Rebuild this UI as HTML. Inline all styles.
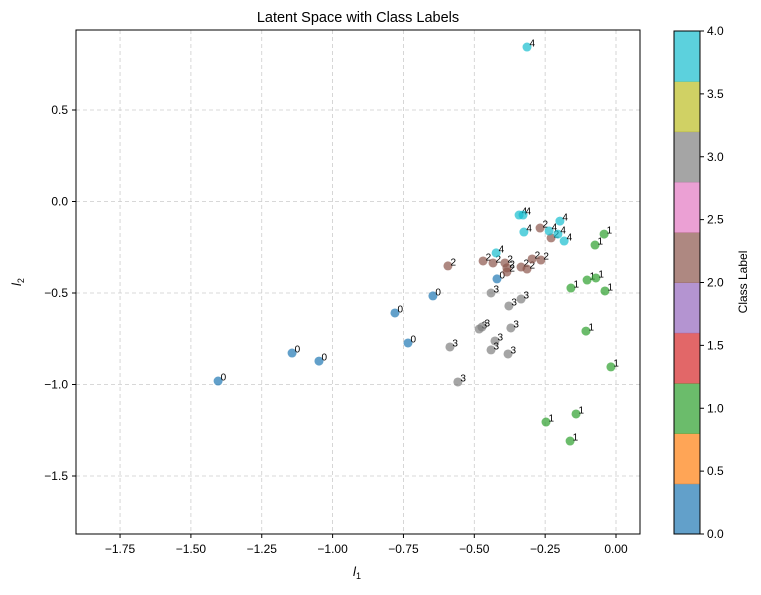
<!DOCTYPE html>
<html><head><meta charset="utf-8"><style>
body{margin:0;background:#fff;font-family:"Liberation Sans","DejaVu Sans",sans-serif}
</style></head><body>
<svg id="chart" width="761" height="590" xmlns="http://www.w3.org/2000/svg" font-family="Liberation Sans, DejaVu Sans, sans-serif">
<text x="358" y="22" text-anchor="middle" font-size="14.5">Latent Space with Class Labels</text>
<g id="grid"></g>
<g id="ticks"></g>
<g id="points"></g>
<rect x="76" y="30" width="564" height="504" fill="none" stroke="#000" stroke-width="1"/>
<text x="357" y="576" text-anchor="middle" font-size="13" font-style="italic">l<tspan font-size="9" dy="3" font-style="normal">1</tspan></text>
<text transform="translate(21,282) rotate(-90)" text-anchor="middle" font-size="13" font-style="italic">l<tspan font-size="9" dy="3" font-style="normal">2</tspan></text>
<g id="cbar"></g>
<text transform="translate(747,282) rotate(-90)" text-anchor="middle" font-size="12">Class Label</text>
</svg>
<script>
const classes=[0,0,0,0,0,0,0, 1,1,1,1,1,1,1,1,1,1,1, 2,2,2,2,2,2,2,2,2,2,2,2, 3,3,3,3,3,3,3,3,3,3,3, 4,4,4,4,4,4,4,4,4];
const xs=[-1.404,-1.143,-1.048,-0.780,-0.734,-0.646,-0.420,
-0.159,-0.102,-0.071,-0.039,-0.042,-0.074,-0.106,-0.018,-0.247,-0.141,-0.162,
-0.268,-0.229,-0.593,-0.469,-0.434,-0.392,-0.385,-0.385,-0.335,-0.314,-0.296,-0.265,
-0.441,-0.378,-0.335,-0.483,-0.473,-0.371,-0.427,-0.441,-0.381,-0.586,-0.558,
-0.314,-0.342,-0.328,-0.325,-0.198,-0.236,-0.205,-0.183,-0.423];
const ys=[-0.981,-0.828,-0.872,-0.609,-0.773,-0.516,-0.423,
-0.473,-0.429,-0.418,-0.489,-0.178,-0.238,-0.708,-0.904,-1.205,-1.161,-1.309,
-0.145,-0.199,-0.352,-0.325,-0.336,-0.336,-0.363,-0.385,-0.358,-0.369,-0.314,-0.320,
-0.500,-0.571,-0.533,-0.697,-0.686,-0.691,-0.762,-0.811,-0.833,-0.795,-0.986,
0.844,-0.074,-0.074,-0.167,-0.107,-0.161,-0.178,-0.216,-0.281];
const xTicks=[-1.75,-1.5,-1.25,-1.0,-0.75,-0.5,-0.25,0.0];
const yTicks=[0.5,0.0,-0.5,-1.0,-1.5];
const cbTicks=[0,0.5,1,1.5,2,2.5,3,3.5,4];
const cbColors=["#1f77b4","#ff7f0e","#2ca02c","#d62728","#9467bd","#8c564b","#e377c2","#7f7f7f","#bcbd22","#17becf"];
const classColor=c=>cbColors[Math.min(9,Math.floor(c/4*10-1e-9)<0?0:Math.floor(c/4*9.9999))];
const NS="http://www.w3.org/2000/svg";
const X=v=>616+v*283.4, Y=v=>201.5-v*183;
function mk(tag,attrs,parent,txt){const e=document.createElementNS(NS,tag);for(const k in attrs)e.setAttribute(k,attrs[k]);if(txt!==undefined)e.textContent=txt;parent.appendChild(e);return e;}
const grid=document.getElementById('grid'),ticks=document.getElementById('ticks'),pts=document.getElementById('points'),cb=document.getElementById('cbar');
xTicks.forEach(t=>{const x=X(t);
const l=mk('line',{x1:x,x2:x,y1:30,y2:534,stroke:'#ccc','stroke-dasharray':'4,3','stroke-width':0.8},grid);


mk('line',{x1:x,x2:x,y1:534,y2:538,stroke:'#000'},ticks);
const tx=mk('text',{x:x,y:553,'text-anchor':'middle','font-size':12},ticks,t.toFixed(2).replace('-','−'));

});
yTicks.forEach(t=>{const y=Y(t);
const l=mk('line',{x1:76,x2:640,y1:y,y2:y,stroke:'#ccc','stroke-dasharray':'4,3','stroke-width':0.8},grid);


mk('line',{x1:72,x2:76,y1:y,y2:y,stroke:'#000'},ticks);
const tx=mk('text',{x:68,y:y+4,'text-anchor':'end','font-size':12},ticks,t.toFixed(1).replace('-','−'));

});
xs.forEach((v,i)=>{const c=classes[i];const col=cbColors[Math.round(c*9/4)];
const cx=X(v),cy=Y(ys[i]);
const p=mk('circle',{cx:cx,cy:cy,r:4.5,fill:col,'fill-opacity':0.7},pts);


const t=mk('text',{x:cx+2.5,y:cy-0.5,'font-size':10},pts,String(c));

});
const cbTop=31,cbBot=534,cbL=674,cbW=26,seg=(cbBot-cbTop)/10;
cbColors.forEach((c,i)=>{const r=mk('rect',{x:cbL,y:cbBot-(i+1)*seg,width:cbW,height:seg+0.5,fill:c,'fill-opacity':0.7},cb);

});
mk('rect',{x:cbL,y:cbTop,width:cbW,height:cbBot-cbTop,fill:'none',stroke:'#000'},cb);
cbTicks.forEach(t=>{const y=cbBot-t/4*(cbBot-cbTop);
mk('line',{x1:700,x2:704,y1:y,y2:y,stroke:'#000'},cb);
const tx=mk('text',{x:707,y:y+4,'font-size':12},cb,t.toFixed(1));

});
</script>
</body></html>
